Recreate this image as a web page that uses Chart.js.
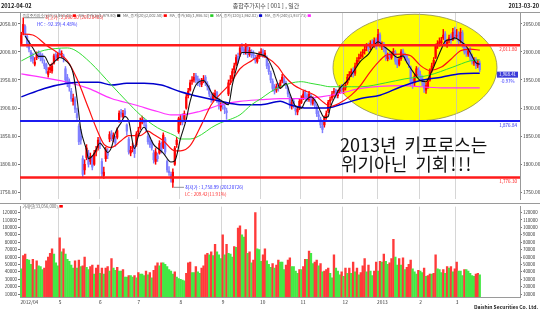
<!DOCTYPE html>
<html>
<head>
<meta charset="utf-8">
<script src="https://cdn.jsdelivr.net/npm/chart.js@4.4.0/dist/chart.umd.min.js"></script>
<style>
html, body { margin: 0; padding: 0; background: #fff; }
#wrap { position: relative; width: 540px; height: 313px; overflow: hidden; }
canvas { position: absolute; left: 0; }
#price { top: 0; }
#vol { top: 203px; }
</style>
</head>
<body>
<div id="wrap">
  <canvas id="price" width="540" height="203"></canvas>
  <canvas id="vol" width="540" height="110"></canvas>
</div>
<script>
const FONT = '"Noto Sans CJK KR", "DejaVu Sans", sans-serif';

// month axis: first trading day of each month (index into the daily arrays)
const monthLabels = ['2012/04', '5', '6', '7', '8', '9', '10', '11', '12', '2013', '2', '3'];
const monthStarts = [0, 20, 41, 61, 83, 105, 125, 146, 168, 186, 208, 227];

// daily candles [open, high, low, close], 2012-04-02 .. 2013-03-20
const ohlc = [
  // 2012/04
  [2015,2035,2012,2029],[2035,2060.8,2030,2049],[2045,2048,2028,2033],[2028,2030,2008,2013],[2015,2020,2000,2005],
  [2000,2003,1983,1988],[1992,1998,1980,1985],[1978,1990,1975,1982],[1990,2000,1986,1995],[1998,2002,1988,1992],
  [1995,1999,1984,1990],[1994,1997,1980,1985],[1980,1986,1970,1975],[1978,1980,1962,1968],[1960,1972,1955,1965],
  [1968,1978,1963,1972],[1966,1980,1962,1975],[1980,1996,1978,1993],[1995,1999,1985,1990],[1988,1998,1985,1995],
  // 5
  [2000,2005,1992,1999],[1996,2002,1990,1997],[1993,1996,1982,1989],[1970,1974,1945,1950],[1955,1960,1938,1944],
  [1948,1952,1930,1937],[1930,1935,1912,1917],[1912,1925,1905,1917],[1915,1920,1892,1898],[1890,1900,1878,1883],
  [1868,1872,1835,1840],[1850,1862,1836,1843],[1810,1815,1778,1782],[1790,1808,1782,1800],[1812,1835,1808,1829],
  [1820,1825,1795,1800],[1805,1820,1800,1814],[1810,1815,1790,1795],[1800,1825,1798,1820],[1822,1832,1815,1825],
  [1830,1848,1825,1843],
  // 6
  [1840,1848,1828,1834],[1805,1810,1778,1783],[1780,1795,1775,1786],[1810,1830,1805,1826],[1822,1828,1810,1816],
  [1845,1858,1840,1853],[1855,1860,1842,1848],[1845,1856,1840,1852],[1845,1850,1832,1838],[1848,1865,1845,1860],
  [1878,1895,1875,1891],[1893,1898,1884,1889],[1885,1896,1882,1891],[1895,1899,1884,1889],[1870,1872,1852,1859],
  [1845,1848,1818,1822],[1820,1832,1815,1825],[1828,1838,1822,1831],[1830,1834,1812,1819],[1835,1858,1832,1854],
  // 7
  [1858,1866,1850,1860],[1865,1882,1862,1877],[1875,1886,1872,1879],[1878,1882,1868,1874],[1870,1875,1858,1863],
  [1850,1855,1836,1840],[1842,1848,1830,1835],[1838,1842,1825,1829],[1820,1825,1802,1808],[1805,1828,1800,1822],
  [1815,1820,1805,1810],[1820,1842,1818,1837],[1835,1840,1820,1824],[1830,1856,1828,1852],[1845,1848,1818,1822],
  [1805,1808,1786,1790],[1788,1796,1780,1785],[1782,1786,1768,1775],[1768,1792,1759,1786],[1800,1832,1798,1829],
  [1835,1848,1830,1843],[1858,1884,1855,1881],
  // 8
  [1875,1888,1870,1881],[1885,1890,1870,1876],[1880,1895,1875,1890],[1900,1925,1898,1920],[1922,1935,1918,1930],
  [1932,1950,1930,1945],[1948,1956,1942,1950],[1950,1962,1946,1955],[1958,1962,1945,1950],[1952,1957,1940,1946],
  [1948,1952,1938,1944],[1942,1953,1938,1948],[1950,1958,1945,1952],[1955,1958,1940,1945],[1943,1947,1932,1938],
  [1935,1940,1920,1925],[1920,1925,1910,1918],[1915,1927,1912,1922],[1920,1932,1917,1926],[1928,1930,1910,1915],
  [1915,1918,1898,1905],[1902,1910,1895,1905],
  // 9
  [1908,1912,1898,1905],[1902,1906,1890,1898],[1895,1900,1880,1892],[1925,1950,1922,1945],[1948,1958,1942,1950],
  [1952,1970,1950,1965],[1968,1980,1962,1975],[1978,1995,1975,1990],[1992,1998,1980,1985],[1995,2012,1992,2007],
  [2010,2015,1998,2003],[2005,2008,1995,2000],[1998,2015,1996,2010],[2008,2010,1990,1995],[1995,2008,1992,2003],
  [2000,2004,1990,1995],[1998,2002,1988,1993],[1990,1994,1980,1985],[1983,1995,1980,1990],[1992,2000,1988,1996],
  // 10
  [1998,2006,1994,2000],[2002,2005,1990,1996],[1994,2003,1990,1998],[1990,1993,1970,1975],[1975,1980,1960,1965],
  [1962,1966,1945,1950],[1948,1952,1930,1935],[1938,1942,1925,1930],[1932,1943,1928,1938],[1940,1944,1930,1935],
  [1938,1950,1935,1945],[1948,1960,1945,1955],[1952,1956,1940,1945],[1942,1948,1935,1940],[1935,1938,1920,1925],
  [1920,1924,1900,1905],[1903,1915,1898,1910],[1912,1916,1900,1905],[1900,1904,1888,1895],[1893,1903,1888,1898],
  [1900,1916,1897,1912],
  // 11
  [1910,1922,1908,1915],[1918,1930,1915,1925],[1928,1932,1915,1920],[1922,1926,1912,1918],[1915,1930,1912,1925],
  [1922,1925,1905,1910],[1908,1920,1905,1915],[1912,1916,1900,1905],[1902,1906,1885,1890],[1888,1895,1878,1885],
  [1880,1884,1865,1870],[1868,1875,1856,1862],[1870,1886,1866,1882],[1885,1895,1880,1890],[1895,1914,1892,1910],
  [1912,1920,1906,1915],[1918,1930,1914,1925],[1928,1935,1920,1930],[1932,1934,1918,1925],[1922,1932,1918,1928],
  [1930,1940,1926,1935],[1938,1942,1928,1932],
  // 12
  [1932,1940,1926,1935],[1936,1946,1932,1940],[1945,1960,1942,1955],[1958,1965,1950,1960],[1962,1970,1956,1965],
  [1968,1972,1955,1960],[1962,1980,1958,1975],[1978,1990,1975,1985],[1988,1996,1982,1990],[1992,2000,1988,1995],
  [1998,2004,1990,2000],[2002,2010,1996,2005],[2008,2015,2002,2010],[2012,2016,2000,2005],[2008,2020,2004,2015],
  [2018,2022,2008,2012],[2010,2025,2008,2020],[2022,2025,2005,2010],
  // 2013/01
  [2015,2040,2012,2031],[2030,2034,2008,2011],[2010,2018,2004,2012],[2014,2017,2000,2006],[2004,2008,1985,1990],
  [1988,1998,1984,1993],[1995,1999,1986,1991],[1990,2000,1987,1996],[1998,2006,1994,2001],[2000,2003,1978,1983],
  [1985,1988,1972,1977],[1978,1990,1975,1986],[1988,2004,1985,2000],[2002,2005,1990,1995],[1996,1998,1985,1990],
  [1992,1995,1980,1985],[1984,1988,1972,1977],[1972,1975,1940,1946],[1948,1952,1935,1944],[1945,1960,1940,1956],
  [1958,1974,1955,1970],[1968,1972,1955,1961],
  // 2
  [1960,1966,1950,1957],[1955,1958,1940,1946],[1944,1948,1928,1935],[1932,1945,1926,1940],[1938,1952,1935,1948],
  [1950,1970,1948,1965],[1968,1980,1964,1975],[1978,1990,1975,1985],[1990,2014,1988,2010],[2012,2020,2006,2015],
  [2016,2025,2010,2018],[2016,2026,2012,2020],[2025,2040,2022,2030],[2032,2036,2010,2015],[2012,2022,2008,2018],
  [2020,2030,2016,2025],[2028,2032,2015,2020],[2022,2042,2020,2035],[2038,2044,2022,2026],
  // 3
  [2028,2040,2024,2030],[2032,2036,2012,2018],[2020,2042,2016,2035],[2034,2038,2008,2012],[2010,2015,1996,2000],
  [2002,2008,1992,1998],[1996,2006,1992,2002],[2004,2008,1985,1990],[1992,1996,1978,1983],[1980,1990,1976,1985],
  [1986,1990,1970,1976],[1975,1986,1972,1980],[1980,1984,1965,1968.41]
];

// daily volume (axis units), same days
const volumes = [
  44000,62000,64000,57000,56000,50000,57000,43000,55000,48000,47000,43000,45000,55000,60000,65000,71000,64000,52000,48000,
  86000,67000,71000,64000,57000,54000,49000,45000,55000,45000,56000,47000,48000,60000,46000,43000,47000,49000,37000,45000,49000,
  38000,45000,37000,45000,47000,41000,58000,45000,42000,46000,41000,41000,43000,33000,33000,35000,35000,33000,35000,32000,
  39000,37000,37000,35000,41000,36000,39000,32000,42000,48000,52000,48000,52000,52000,50000,47000,43000,41000,37000,40000,33000,31000,
  30000,29000,28000,38000,52000,53000,39000,39000,47000,40000,38000,45000,48000,63000,65000,63000,67000,62000,77000,67000,63000,58000,
  90000,63000,77000,65000,64000,60000,74000,73000,99000,102000,90000,87000,97000,65000,67000,52000,56000,120000,71000,70000,
  54000,63000,71000,55000,50000,46000,51000,45000,49000,56000,53000,53000,43000,49000,56000,59000,47000,47000,41000,38000,43000,
  43000,47000,57000,57000,68000,65000,51000,53000,56000,48000,51000,40000,41000,43000,45000,38000,32000,63000,45000,41000,36000,40000,
  34000,45000,38000,45000,38000,53000,40000,45000,36000,39000,48000,58000,40000,49000,41000,35000,41000,53000,
  41000,54000,53000,64000,54000,50000,52000,58000,84000,60000,49000,58000,49000,59000,43000,46000,50000,56000,44000,40000,37000,42000,
  41000,39000,45000,34000,35000,37000,37000,38000,63000,44000,43000,39000,43000,38000,47000,45000,47000,40000,44000,
  53000,41000,41000,35000,43000,43000,41000,38000,35000,34000,37000,38000,36000
];

// moving averages: [day index, value]
const ma5 = [[2,2028],[6,2007],[9,1992],[12,1992],[15,1976],[18,1985],[20,1990],[23,1985],[27,1962],[29,1918],
  [31,1862],[34,1825],[35,1810],[38,1819],[41,1838],[43,1830],[45,1821],[47,1830],[49,1856],[52,1874],[54,1885],
  [56,1877],[59,1828],[61,1850],[64,1866],[66,1856],[69,1835],[72,1826],[74,1820],[78,1804],[80,1806],[83,1846],
  [86,1880],[88,1912],[91,1941],[95,1949],[97,1941],[100,1923],[104,1914],[108,1906],[110,1941],[113,1981],
  [115,1999],[120,1999],[124,1996],[128,1990],[131,1970],[133,1950],[135,1935],[138,1944],[140,1926],[143,1903],
  [146,1900],[148,1912],[151,1920],[154,1909],[156,1894],[158,1883],[160,1885],[161,1900],[164,1923],[166,1935],
  [170,1949],[173,1964],[177,1984],[181,1996],[184,2012],[186,2018],[189,2010],[193,1999],[196,1990],[199,1993],
  [201,1981],[205,1961],[208,1949],[211,1947],[213,1958],[216,1981],[219,2005],[221,2019],[224,2022],[226,2025],
  [229,2019],[232,2010],[234,1999],[237,1981],[239,1978]];
const ma20 = [[0,2032],[6,2030],[13,2012],[20,1996],[24,1984],[29,1952],[35,1900],[39,1865],[43,1836],[47,1830],
  [52,1842],[56,1851],[59,1851],[62,1851],[66,1859],[69,1853],[74,1842],[80,1824],[83,1824],[88,1833],[94,1871],
  [99,1906],[104,1926],[109,1944],[114,1970],[120,1984],[125,1993],[128,1990],[134,1973],[137,1958],[142,1941],
  [147,1932],[153,1923],[158,1909],[161,1903],[166,1909],[172,1923],[177,1941],[182,1965],[187,1985],[191,1995],
  [198,1996],[203,1993],[208,1976],[213,1967],[219,1973],[224,1987],[229,2002],[234,2005],[239,2003]];
const ma60 = [[0,1984],[5,1993],[10,2001],[18,2006],[24,2007],[28,2003],[36,1981],[47,1941],[55,1912],[62,1888],
  [71,1865],[80,1851],[83,1845],[88,1845],[94,1853],[99,1865],[104,1874],[109,1880],[114,1888],[120,1906],
  [125,1917],[130,1929],[135,1938],[140,1944],[146,1947],[151,1944],[156,1941],[161,1938],[172,1938],[177,1938],
  [190,1945],[200,1952],[212,1958],[225,1973],[234,1984],[239,1986]];
const ma120 = [[0,1920],[12,1935],[24,1944],[31,1946],[40,1946],[47,1941],[55,1944],[64,1944],[73,1941],[83,1929],
  [93,1920],[104,1912],[114,1906],[125,1906],[135,1912],[140,1906],[149,1900],[156,1900],[161,1901],[166,1906],
  [172,1912],[177,1917],[187,1923],[198,1938],[208,1949],[219,1955],[229,1961],[239,1962]];
const ma240 = [[0,1961],[24,1946],[35,1935],[47,1917],[59,1906],[71,1894],[78,1888],[83,1888],[93,1894],[104,1906],
  [114,1912],[125,1915],[135,1917],[146,1917],[156,1920],[166,1926],[177,1935],[198,1940],[219,1936],[239,1936]];

// horizontal support/resistance lines
const levels = [2011.80, 1876.84, 1776.30];
const levelColors = ['#ff1a1a', '#1c1cf0', '#ff1a1a'];

const priceTicks = [1750, 1800, 1850, 1900, 1950, 2000, 2050];
const volumeTicks = [10000, 20000, 30000, 40000, 50000, 60000, 70000, 80000, 90000, 100000, 110000, 120000];

const legendItems = [
  ['종합주가지수(일간)(1,968.41)', '#ff0000'],
  ['MA_종가(5)(1,979.80)', '#000000'],
  ['MA_종가(20)(2,002.50)', '#ff0000'],
  ['MA_종가(60)(1,986.52)', '#22cc22'],
  ['MA_종가(120)(1,962.02)', '#0000cc'],
  ['MA_종가(240)(1,937.73)', '#ff22ff']
];

const X_MIN = -0.7, X_MAX = 260;
const UP = '#ff0000', DOWN = '#7f7fff';
const gridAt = monthStarts.map(i => i - 0.5);
const lastClose = ohlc[ohlc.length - 1][3];

function candleColor(i) {
  return ohlc[i][3] >= ohlc[i][0] ? UP : DOWN;
}

function monthGrid(scale) {
  scale.ticks = gridAt.map(v => ({ value: v }));
}

function yAxis(pos, min, max, ticks, fmt, size) {
  return {
    type: 'linear', position: pos, min: min, max: max,
    afterBuildTicks: s => { s.ticks = ticks.map(v => ({ value: v })); },
    afterFit: s => { s.width = 20; },
    ticks: { font: { family: FONT, size: size }, color: '#333', padding: 1, callback: fmt, autoSkip: false },
    grid: { drawOnChartArea: false, drawTicks: true, tickLength: 2, color: '#777' },
    border: { display: true, color: '#999' }
  };
}

function maLine(pts, color, w) {
  return {
    type: 'line', data: pts.map(p => ({ x: p[0], y: p[1] })),
    borderColor: color, borderWidth: w, pointRadius: 0,
    cubicInterpolationMode: 'monotone', order: 1, yAxisID: 'y'
  };
}

function txt(ctx, s, x, y, color, size, align, bold) {
  ctx.font = (bold ? 'bold ' : '') + size + 'px ' + FONT;
  ctx.fillStyle = color;
  ctx.textAlign = align || 'left';
  ctx.textBaseline = 'middle';
  ctx.fillText(s, x, y);
}

// yellow callout, in data coordinates
const callout = { left: 162.5, right: 248, top: 2067, bottom: 1877 };

const priceDecor = {
  id: 'priceDecor',
  beforeDatasetsDraw(chart) {
    const { ctx, scales: { x, y } } = chart;
    const l = x.getPixelForValue(callout.left), r = x.getPixelForValue(callout.right);
    const t = y.getPixelForValue(callout.top), b = y.getPixelForValue(callout.bottom);
    ctx.save();
    ctx.beginPath();
    ctx.ellipse((l + r) / 2, (t + b) / 2, (r - l) / 2, (b - t) / 2, 0, 0, Math.PI * 2);
    ctx.fillStyle = '#ffff00';
    ctx.fill();
    ctx.strokeStyle = '#8a8a50';
    ctx.lineWidth = 0.8;
    ctx.stroke();
    ctx.clip();
    ctx.strokeStyle = '#cfcf90';
    ctx.lineWidth = 1;
    gridAt.forEach(v => {
      const px = Math.round(x.getPixelForValue(v)) + 0.5;
      ctx.beginPath(); ctx.moveTo(px, t); ctx.lineTo(px, b); ctx.stroke();
    });
    ctx.restore();
  },
  afterDatasetsDraw(chart) {
    const { ctx, chartArea: a, scales: { x, y } } = chart;
    ctx.save();
    // level lines + right labels
    levels.forEach((v, i) => {
      const py = y.getPixelForValue(v);
      ctx.strokeStyle = levelColors[i];
      ctx.lineWidth = i === 1 ? 2 : 2.5;
      ctx.beginPath(); ctx.moveTo(a.left, py); ctx.lineTo(a.right, py); ctx.stroke();
      txt(ctx, v.toLocaleString('en-US', { minimumFractionDigits: 2 }), 517, py + 4, levelColors[i], 4.6, 'right');
    });

    // highest / lowest markers
    const hi = 1, lo = 79;
    const hx = x.getPixelForValue(hi), hy = y.getPixelForValue(ohlc[hi][1]);
    ctx.strokeStyle = '#777'; ctx.lineWidth = 0.8;
    ctx.beginPath(); ctx.moveTo(hx + 1, hy); ctx.lineTo(44, hy); ctx.stroke();
    txt(ctx, '최고가 : 2,060.80 (20120403)', 45, hy, '#ff3030', 4.6);
    txt(ctx, 'HC : -92.39(-4.48%)', 37, hy + 6.5, '#3030ff', 4.6);
    const lx = x.getPixelForValue(lo), ly = y.getPixelForValue(ohlc[lo][2]);
    ctx.beginPath(); ctx.moveTo(lx + 1, ly); ctx.lineTo(184, ly); ctx.stroke();
    txt(ctx, '최저가 : 1,758.99 (20120726)', 185, ly, '#3030ff', 4.6);
    txt(ctx, 'LC : 209.42(11.91%)', 185, ly + 7, '#ff3030', 4.6);

    // current price tag
    const cy = y.getPixelForValue(lastClose) + 5;
    ctx.fillStyle = '#3a3ad8';
    ctx.fillRect(497, cy - 3, 21, 6);
    txt(ctx, '1,968.41', 507.5, cy, '#ffffff', 4.4, 'center');
    txt(ctx, '-0.97%', 507.5, cy + 6.5, '#3030ff', 4.4, 'center');

    // comment
    txt(ctx, '2013년  키프로스는', 340, 145, '#111', 18);
    txt(ctx, '위기아닌  기회', 341, 164.5, '#111', 18);
    let ex = 341 + ctx.measureText('위기아닌  기회').width + 2;
    for (let k = 0; k < 3; k++) {
      txt(ctx, '!', ex, 164.5, '#111', 18);
      ex += 7.5;
    }
    ctx.restore();
  },
  afterDraw(chart) {
    const { ctx } = chart;
    ctx.save();
    ctx.strokeStyle = '#9a9a9a'; ctx.lineWidth = 1;
    ctx.beginPath(); ctx.moveTo(0, 12.5); ctx.lineTo(540, 12.5); ctx.stroke();
    txt(ctx, '2012-04-02', 1, 5.5, '#222', 5.6, 'left', true);
    txt(ctx, '종합주가지수 [ 001 ] , 일간', 266, 5.5, '#444', 6, 'center');
    txt(ctx, '2013-03-20', 539, 5.5, '#222', 5.6, 'right', true);
    // legend row
    let lxp = 22.5;
    legendItems.forEach(([t, c]) => {
      txt(ctx, t, lxp, 15.5, '#666', 3.9);
      lxp += ctx.measureText(t).width + 1.2;
      ctx.fillStyle = c;
      ctx.fillRect(lxp, 14.3, 3.2, 2.6);
      lxp += 3.2 + 2.6;
    });
    ctx.restore();
  }
};

new Chart(document.getElementById('price'), {
  type: 'line',
  data: {
    datasets: [
      maLine(ma5, '#111111', 1.1),
      maLine(ma20, '#ff1010', 1.2),
      maLine(ma60, '#33dd33', 1.0),
      maLine(ma120, '#0000cc', 1.5),
      maLine(ma240, '#ff33ff', 1.2),
      {
        type: 'bar', data: ohlc.map((d, i) => ({ x: i, y: [d[0], d[3]] })),
        backgroundColor: c => candleColor(c.dataIndex), borderWidth: 0,
        barThickness: 1.6, minBarLength: 0.8, grouped: false, order: 3, yAxisID: 'y'
      },
      {
        type: 'bar', data: ohlc.map((d, i) => ({ x: i, y: [d[2], d[1]] })),
        backgroundColor: c => candleColor(c.dataIndex), borderWidth: 0,
        barThickness: 0.8, grouped: false, order: 4, yAxisID: 'y'
      }
    ]
  },
  options: {
    responsive: false, animation: false, devicePixelRatio: 1,
    layout: { padding: { top: 12, left: 0, right: 0, bottom: 0 }, autoPadding: false },
    plugins: { legend: { display: false }, tooltip: { enabled: false } },
    scales: {
      x: {
        type: 'linear', min: X_MIN, max: X_MAX, offset: false,
        afterBuildTicks: monthGrid, afterFit: s => { s.height = 0; },
        ticks: { display: false },
        grid: { color: '#d6d6d6', drawTicks: false, offset: false },
        border: { display: false }
      },
      y: yAxis('left', 1738, 2071, priceTicks, v => v.toFixed(2), 4.8),
      y2: yAxis('right', 1738, 2071, priceTicks, v => v.toFixed(2), 4.8)
    }
  },
  plugins: [priceDecor]
});

const volDecor = {
  id: 'volDecor',
  afterDraw(chart) {
    const { ctx, chartArea: a } = chart;
    ctx.save();
    ctx.strokeStyle = '#9a9a9a'; ctx.lineWidth = 1;
    ctx.beginPath(); ctx.moveTo(0, 0.5); ctx.lineTo(540, 0.5); ctx.stroke();
    ctx.beginPath(); ctx.moveTo(a.left, Math.round(a.bottom) + 0.5); ctx.lineTo(a.right, Math.round(a.bottom) + 0.5); ctx.stroke();
    txt(ctx, '거래량(33,056,000)', 22.5, 3.2, '#666', 4.2);
    const w = ctx.measureText('거래량(33,056,000)').width;
    ctx.fillStyle = '#ff0000';
    ctx.fillRect(22.5 + w + 1.5, 2, 3.5, 2.6);
    txt(ctx, 'Daishin Securities Co. Ltd.', 538, 104.5, '#222', 5, 'right', true);
    ctx.restore();
  }
};

new Chart(document.getElementById('vol'), {
  type: 'line',
  data: {
    datasets: [{
      type: 'bar', data: volumes.map((v, i) => ({ x: i, y: v })),
      backgroundColor: c => (c.dataIndex > 0 && volumes[c.dataIndex] > volumes[c.dataIndex - 1]) ? '#ff3a3a' : '#44e844',
      borderWidth: 0, barThickness: 1.7, grouped: false
    }]
  },
  options: {
    responsive: false, animation: false, devicePixelRatio: 1,
    layout: { padding: { top: 1, left: 0, right: 0, bottom: 0 }, autoPadding: false },
    plugins: { legend: { display: false }, tooltip: { enabled: false } },
    scales: {
      x: {
        type: 'linear', min: X_MIN, max: X_MAX, offset: false,
        afterBuildTicks: monthGrid, afterFit: s => { s.height = 16; },
        ticks: { align: 'start', maxRotation: 0, autoSkip: false, padding: 2,
                 font: { family: FONT, size: 4.8 }, color: '#333',
                 callback: (v, i) => monthLabels[i] },
        grid: { color: '#d6d6d6', drawTicks: false, offset: false },
        border: { display: false }
      },
      y: yAxis('left', 6000, 128000, volumeTicks, v => String(v), 4.4),
      y2: yAxis('right', 6000, 128000, volumeTicks, v => String(v), 4.4)
    }
  },
  plugins: [volDecor]
});
</script>
</body>
</html>
